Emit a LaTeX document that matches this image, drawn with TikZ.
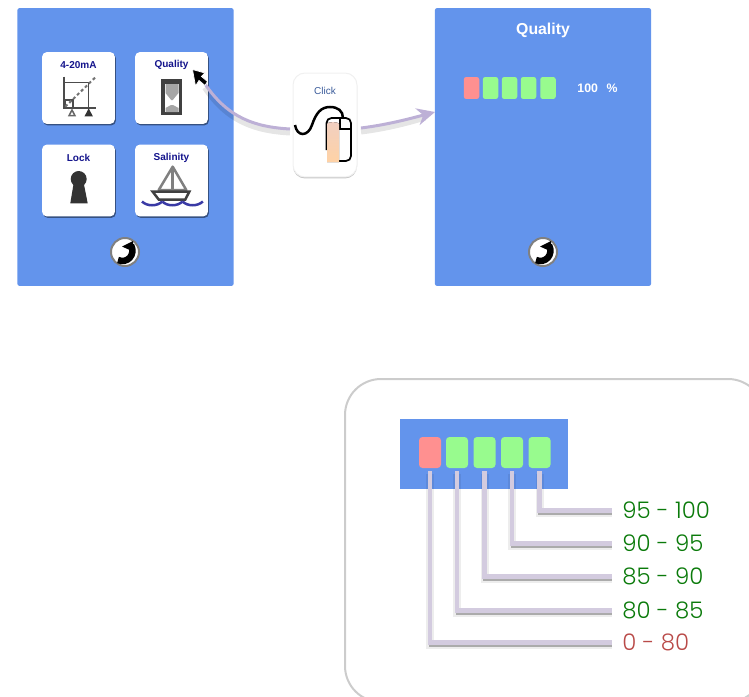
\documentclass[tikz,border=0pt]{standalone}
\usepackage{fontspec}
\setmainfont{Liberation Sans}
\newfontfamily\rangefont{Poppins Light}
\usetikzlibrary{arrows.meta,calc,positioning,shadows}

\definecolor{panelblue}{HTML}{6394EC}
\definecolor{ledred}{HTML}{FF9090}
\definecolor{ledgreen}{HTML}{98FB8E}
\definecolor{linkpurple}{HTML}{BDB0D6}
\definecolor{rangeline}{HTML}{D3CBDF}
\definecolor{cardtext}{HTML}{14148C}
\definecolor{clicktext}{HTML}{3B5C9B}
\definecolor{wavecolor}{HTML}{3A3AA5}
\definecolor{rangegreen}{HTML}{0A7A0A}
\definecolor{rangered}{HTML}{B94A48}

\tikzset{
	panel/.style={fill=panelblue, draw=none, inner sep=0, minimum width=4.33cm, minimum height=5.56cm, rounded corners=0.05cm},
	card/.style={fill=white, draw=none, inner sep=0, minimum width=1.46cm, minimum height=1.44cm, rounded corners=0.1cm, drop shadow={shadow xshift=0.02cm, shadow yshift=-0.03cm, fill=black, opacity=0.45}},
	clickcard/.style={fill=white, draw=black!6, line width=0.02cm, inner sep=0, minimum width=1.28cm, minimum height=2.08cm, rounded corners=0.24cm, drop shadow={shadow xshift=0cm, shadow yshift=-0.03cm, fill=black, opacity=0.22}},
	cardlabel/.style={draw=none, fill=none, inner sep=0, text=cardtext, font=\bfseries\fontsize{5.7}{7}\selectfont},
	led/.style={draw=none, inner sep=0, outer sep=0.06cm, rounded corners=0.07cm, minimum width=0.44cm, minimum height=0.62cm},
	ledsmall/.style={draw=none, inner sep=0, rounded corners=0.05cm, minimum width=0.31cm, minimum height=0.44cm},
	rangelabel/.style={draw=none, fill=none, anchor=west, inner sep=0.2cm, font=\rangefont\fontsize{13}{15}\selectfont},
	link/.style={draw=linkpurple, line width=0.06cm},
	linkshadow/.style={draw=black, opacity=0.1, line width=0.12cm, transform canvas={yshift=-0.07cm}},
	rangewire/.style={draw=rangeline, line width=0.095cm},
	rangeshadow/.style={draw=black, opacity=0.28, line width=0.07cm, transform canvas={xshift=0.005cm, yshift=-0.055cm}},
	rangehalo/.style={draw=black, opacity=0.07, line width=0.16cm, transform canvas={yshift=-0.05cm}},
	backbtn/.style={circle, fill=white, draw=gray, line width=0.04cm, inner sep=0, minimum size=0.56cm},
}

\begin{document}
\begin{tikzpicture}[x=0.02cm,y=-0.02cm]
	\useasboundingbox (0,0) rectangle (749,696);

	% panels
	\node[panel] (menu) at (125.5,147) {};
	\node[panel] (quality) at (543,147) {};

	% cards of the menu
	\node[card] (c420) at (78.5,88) {};
	\node[card] (cquality) at (171.5,88) {};
	\node[card] (clock) at (78.5,180.5) {};
	\node[card] (csalinity) at (171.5,180.5) {};
	\node[cardlabel] (l420) at (78.5,65) {4-20mA};
	\node[cardlabel] (lquality) at (171.5,65) {Quality};
	\node[cardlabel] (llock) at (78.5,157.5) {Lock};
	\node[cardlabel] (lsalinity) at (171.5,157.5) {Salinity};

	% 4-20mA graph
	\draw[black!70, line width=0.04cm] (63.7,76.7)--(63.7,108)--(96,108);
	\draw[black!70, line width=0.03cm] (63.7,82.3)--(88.7,82.3)--(88.7,108);
	\draw[black!70, line width=0.03cm] (65,100) rectangle (73,108);
	\draw[black!55, line width=0.04cm, dash pattern=on 0.06cm off 0.05cm] (65.3,106.7)--(96,76.7);
	\draw[black!60, fill=white, line width=0.03cm] (72,110)--(75,115.7)--(69,115.7)--cycle;
	\draw[black!80, fill=black!80, line width=0.03cm] (88.7,110)--(91.7,115.7)--(85.7,115.7)--cycle;

	% hourglass
	\fill[black!75] (161.3,78.5) rectangle (182,84);
	\fill[black!75] (161.3,112) rectangle (182,115);
	\fill[black!75] (161.3,78.5) rectangle (164.5,115);
	\fill[black!75] (178.8,78.5) rectangle (182,115);
	\fill[black!35] (165.5,84) -- (178.5,84) -- (178.5,93) -- (172.8,100) -- (171.2,100) -- (165.5,93) -- cycle;
	\fill[black!35] (171,105) -- (173,105) -- (178.5,108) -- (178.5,112) -- (165.5,112) -- (165.5,108) -- cycle;

	% keyhole
	\fill[black!80] (78.7,179) circle (8);
	\fill[black!80] (73.7,183)--(83.7,183)--(87.7,203.3)--(70.3,203.3)--cycle;

	% boat
	\draw[black!50, line width=0.05cm, line join=round] (172.7,166.7)--(158.7,190)--(186.3,190)--cycle;
	\draw[black!50, line width=0.07cm] (172.7,167)--(172.7,190);
	\draw[black!75, line width=0.05cm, fill=white] (152.7,191.7)--(189.3,191.7)--(185.3,199.5)--(158.7,199.5)--cycle;
	\foreach \wx in {142,162.3,182.6}{
		\draw[wavecolor, line width=0.05cm] (\wx,201.5) .. controls ({\wx+5},206.5) and ({\wx+15},206.5) .. ({\wx+20.3},201.5);
	}

	% return buttons
	\foreach \bx in {125,543}{
		\node[backbtn] (back\bx) at (\bx,252) {};
		\draw[black, line width=0.13cm] ({\bx-7},260) .. controls ({\bx+2},264) and ({\bx+11},255) .. ({\bx+6},245);
		\fill[black] ({\bx+8},241) -- ({\bx-3},246.5) -- ({\bx+8},251.5) -- cycle;
	}

	% click card
	\node[clickcard] (click) at (325,125) {};
	\node[draw=none, fill=none, inner sep=0, text=clicktext, font=\fontsize{5.7}{7}\selectfont] (lclick) at (325,91) {Click};
	\draw[black, line width=0.03cm] (340,118) -- (340,129) -- (351,129);
	\draw[black, line width=0.035cm, rounded corners=0.1cm] (339,161) -- (351,161) -- (351,118) -- (326.5,118) -- (326.5,150);
	\fill[top color=red!25!brown!30!white, bottom color=orange!35!white] (327,124) .. controls (327,121.5) and (339,121.5) .. (339,124) -- (339,162) -- (327,162) -- cycle;
	\draw[black, line width=0.05cm] (295,125) .. controls (297,137) and (308,137) .. (312,125) .. controls (316,113) and (321,107) .. (330,107) .. controls (338,107) and (343,111) .. (343,118);

	% links
	\coordinate (clickleft) at (290,129);
	\coordinate (clickright) at (361,128);
	\coordinate (cursortail) at (205,84);
	\coordinate (qualityin) at (435,112);
	\draw[linkshadow] (clickleft) .. controls (255,127) and (228,118) .. (cursortail);
	\draw[linkshadow] (clickright) .. controls (385,125) and (405,120) .. (425,114);
	\draw[link] (clickleft) .. controls (255,127) and (228,118) .. (cursortail);
	\draw[link, -{Stealth[length=0.36cm,width=0.34cm]}] (clickright) .. controls (385,125) and (405,120) .. (qualityin);

	% cursor
	\fill[black, draw=white, line width=0.015cm] (192.5,69.5)--(205,73)--(201.5,76.5)--(207.5,81.5)--(205,85.5)--(199,80.5)--(195.5,86)--cycle;

	% quality screen
	\node[draw=none, fill=none, inner sep=0, text=white, font=\bfseries\fontsize{9}{11}\selectfont] (qtitle) at (543,30) {Quality};
	\node[ledsmall, fill=ledred] (q1) at (471.5,88) {};
	\node[ledsmall, fill=ledgreen] (q2) at (490.5,88) {};
	\node[ledsmall, fill=ledgreen] (q3) at (509.5,88) {};
	\node[ledsmall, fill=ledgreen] (q4) at (528.5,88) {};
	\node[ledsmall, fill=ledgreen] (q5) at (548,88) {};
	\node[draw=none, fill=none, inner sep=0, text=white, font=\bfseries\fontsize{7}{8}\selectfont] (qvalue) at (597.5,88.5) {100\hspace{0.7em}\%};

	% legend
	\begin{scope}
	\clip (0,0) rectangle (749,696);
	\draw[black!20, line width=0.04cm, rounded corners=0.72cm] (345,379) rectangle (764,702);
	\end{scope}
	\node[fill=panelblue, draw=none, inner sep=0, minimum width=3.36cm, minimum height=1.4cm] (bar) at (484,454) {};
	\node[led, fill=ledred] (s1) at (430,452.5) {};
	\node[led, fill=ledgreen] (s2) at (457,452.5) {};
	\node[led, fill=ledgreen] (s3) at (484.5,452.5) {};
	\node[led, fill=ledgreen] (s4) at (512,452.5) {};
	\node[led, fill=ledgreen] (s5) at (539.5,452.5) {};
	\node[rangelabel, text=rangegreen] (r5) at (612,510.5) {95 - 100};
	\node[rangelabel, text=rangegreen] (r4) at (612,543.5) {90 - 95};
	\node[rangelabel, text=rangegreen] (r3) at (612,576.5) {85 - 90};
	\node[rangelabel, text=rangegreen] (r2) at (612,610.5) {80 - 85};
	\node[rangelabel, text=rangered] (r1) at (612,642.5) {0 - 80};
	\foreach \sq/\rn in {s1/r1,s2/r2,s3/r3,s4/r4,s5/r5}{
		\draw[rangehalo] (\sq.south) |- (\rn.west);
		\draw[rangeshadow] (\sq.south) |- (\rn.west);
		\draw[rangewire] (\sq.south) |- (\rn.west);
	}
\end{tikzpicture}
\end{document}
